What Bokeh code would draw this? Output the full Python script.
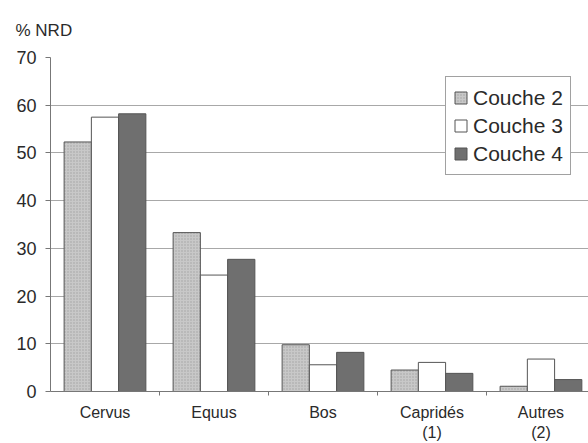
from bokeh.plotting import figure
from bokeh.models import Range1d, FixedTicker, Legend, LegendItem, Title
from bokeh.embed import file_html
from bokeh.resources import INLINE

categories = ["Cervus", "Equus", "Bos", "Capridés\n(1)", "Autres\n(2)"]
series_names = ["Couche 2", "Couche 3", "Couche 4"]
couche2 = [52.3, 33.3, 9.8, 4.5, 1.1]
couche3 = [57.5, 24.4, 5.6, 6.1, 6.8]
couche4 = [58.2, 27.7, 8.2, 3.8, 2.5]
y_ticks = [0, 10, 20, 30, 40, 50, 60, 70]

FONT = "Liberation Sans"
TXT = "#2a2a2a"

p = figure(width=588, height=443, output_backend="svg", toolbar_location=None,
           x_range=Range1d(0, 4.936), y_range=Range1d(0, 70),
           min_border_left=50, min_border_right=0, min_border_top=57, min_border_bottom=51)
p.outline_line_color = None
p.background_fill_color = "white"
p.border_fill_color = "white"

n = len(categories)
centers = [i + 0.5 for i in range(n)]
bw = 0.25
styles = [
    dict(fill_color="#c8c8c8", hatch_pattern="dot", hatch_scale=3, hatch_color="#a2a2a2", hatch_weight=1),
    dict(fill_color="white"),
    dict(fill_color="#6f6f6f"),
]
renderers = []
for k, vals in enumerate([couche2, couche3, couche4]):
    xs = [c + (k - 1) * bw for c in centers]
    r = p.vbar(x=xs, top=vals, width=bw, line_color="#555555", line_width=1, **styles[k])
    renderers.append(r)

# axes
p.xgrid.visible = False
p.ygrid.grid_line_color = "#a8a8a8"
p.ygrid.grid_line_width = 1
p.yaxis.ticker = FixedTicker(ticks=y_ticks)
p.yaxis.major_label_text_font = FONT
p.yaxis.major_label_text_font_size = "18px"
p.yaxis.major_label_text_color = TXT
p.yaxis.major_tick_in = 0
p.yaxis.major_tick_out = 5
p.yaxis.minor_tick_line_color = None
p.yaxis.axis_line_color = "#777777"
p.yaxis.major_tick_line_color = "#777777"
p.yaxis.major_label_standoff = 9

p.xaxis.ticker = FixedTicker(ticks=centers, minor_ticks=[1, 2, 3, 4])
p.xaxis.major_label_overrides = {c: lab for c, lab in zip(centers, categories)}
p.xaxis.major_tick_line_color = None
p.xaxis.minor_tick_in = 0
p.xaxis.minor_tick_out = 4
p.xaxis.minor_tick_line_color = "#777777"
p.xaxis.axis_line_color = "#777777"
p.xaxis.major_label_text_font = FONT
p.xaxis.major_label_text_font_size = "16px"
p.xaxis.major_label_text_color = TXT
p.xaxis.major_label_standoff = 6

p.add_layout(Title(text="% NRD", align="left", offset=-35, standoff=36,
                   text_font=FONT, text_font_size="17px", text_font_style="normal",
                   text_color=TXT), "above")

legend = Legend(items=[LegendItem(label=nm, renderers=[r]) for nm, r in zip(series_names, renderers)],
                location=(395, 216))
legend.label_text_font = FONT
legend.label_text_font_size = "21px"
legend.label_text_color = TXT
legend.glyph_width = 15
legend.glyph_height = 15
legend.label_height = 27
legend.spacing = 1
legend.padding = 7
legend.label_standoff = 5
legend.border_line_color = "#444444"
legend.border_line_width = 1
legend.background_fill_alpha = 1
p.add_layout(legend)

open("out.html", "w").write(file_html(p, INLINE))
